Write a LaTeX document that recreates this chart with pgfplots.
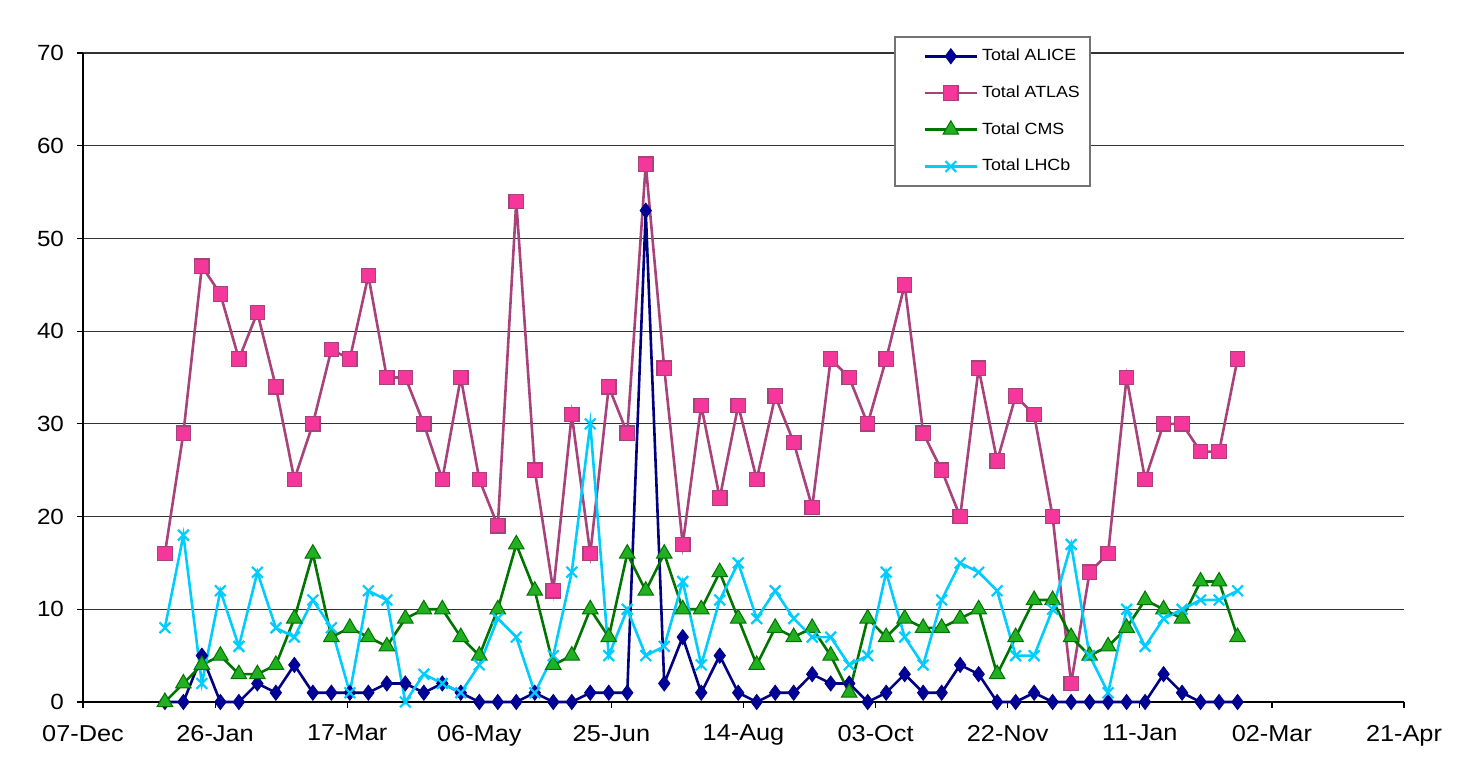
\documentclass[border=0pt]{standalone}
\usepackage{pgfplots}
\usepackage{pgfplotstable}
\pgfplotsset{compat=1.18}
\usepackage{fontspec}
\setmainfont{Liberation Sans}[FakeStretch=1.1]

\definecolor{alice}{HTML}{000080}
\definecolor{alicefill}{HTML}{000099}
\definecolor{atlasline}{HTML}{A8427A}
\definecolor{atlasfill}{HTML}{F5369B}
\definecolor{cmsline}{HTML}{007400}
\definecolor{cmsfill}{HTML}{22B022}
\definecolor{lhcb}{HTML}{00CCFF}

\pgfplotstableread{
x alice atlas cms lhcb
31 0 16 0 8
38 0 29 2 18
45 5 47 4 2
52 0 44 5 12
59 0 37 3 6
66 2 42 3 14
73 1 34 4 8
80 4 24 9 7
87 1 30 16 11
94 1 38 7 8
101 1 37 8 1
108 1 46 7 12
115 2 35 6 11
122 2 35 9 0
129 1 30 10 3
136 2 24 10 2
143 1 35 7 1
150 0 24 5 4
157 0 19 10 9
164 0 54 17 7
171 1 25 12 1
178 0 12 4 5
185 0 31 5 14
192 1 16 10 30
199 1 34 7 5
206 1 29 16 10
213 53 58 12 5
220 2 36 16 6
227 7 17 10 13
234 1 32 10 4
241 5 22 14 11
248 1 32 9 15
255 0 24 4 9
262 1 33 8 12
269 1 28 7 9
276 3 21 8 7
283 2 37 5 7
290 2 35 1 4
297 0 30 9 5
304 1 37 7 14
311 3 45 9 7
318 1 29 8 4
325 1 25 8 11
332 4 20 9 15
339 3 36 10 14
346 0 26 3 12
353 0 33 7 5
360 1 31 11 5
367 0 20 11 10
374 0 2 7 17
381 0 14 5 5
388 0 16 6 1
395 0 35 8 10
402 0 24 11 6
409 3 30 10 9
416 1 30 9 10
423 0 27 13 11
430 0 27 13 11
437 0 37 7 12
}\datatable

\begin{document}
\begin{tikzpicture}
\begin{axis}[
  name=ax, at={(0,0)}, anchor=south west,
  scale only axis, width=660.5pt, height=324.5pt,
  xmin=0, xmax=500, ymin=0, ymax=70,
  axis x line*=bottom, axis y line*=left,
  axis line style={black, line width=0.6pt, -},
  xtick={0,50,...,500},
  xticklabels={07-Dec,26-Jan,17-Mar,06-May,25-Jun,14-Aug,03-Oct,22-Nov,11-Jan,02-Mar,21-Apr},
  ytick={0,10,...,70},
  tick align=outside, major tick length=3pt,
  tick style={black, line width=0.6pt},
  ymajorgrids, major grid style={black!80, line width=0.6pt},
  /pgf/number format/assume math mode=true,
  tick label style={font=\fontsize{11}{13}\selectfont, black},
  xticklabel style={font=\fontsize{11.5}{13}\selectfont, yshift=-5pt},
  yticklabel style={xshift=-3pt},
  clip=false,
  legend style={at={(0.614,1.026)}, anchor=north west, draw=black!55, line width=0.75pt,
    fill=white, font=\fontsize{8.1}{9.5}\selectfont, inner xsep=3pt, inner ysep=4pt,
    row sep=7pt, cells={anchor=west}},
  legend cell align=left,
  legend image code/.code={\path[draw=none] (0pt,0pt) -- (12pt,0pt);\draw[mark repeat=2,mark phase=2,#1] plot coordinates {(12pt,0pt) (25pt,0pt) (38pt,0pt)};},
]
\addplot[alice, line width=1.3pt, mark=diamond*, mark size=3.8pt, mark options={fill=alicefill, draw=alice, line width=0.4pt}] table[x=x, y=alice] {\datatable};
\addlegendentry{Total ALICE}
\addplot[atlasline, line width=1.3pt, mark=square*, mark size=3.6pt, mark options={fill=atlasfill, draw=atlasline, line width=0.6pt}] table[x=x, y=atlas] {\datatable};
\addlegendentry{Total ATLAS}
\addplot[cmsline, line width=1.3pt, mark=triangle*, mark size=4.5pt, mark options={fill=cmsfill, draw=cmsline, line width=0.5pt}] table[x=x, y=cms] {\datatable};
\addlegendentry{Total CMS}
\addplot[lhcb, line width=1.3pt, mark=x, mark size=3.8pt, mark options={draw=lhcb, line width=1.1pt}] table[x=x, y=lhcb] {\datatable};
\addlegendentry{Total LHCb}
\end{axis}
\path[use as bounding box] ([shift={(-41.5pt,-38pt)}]ax.south west) rectangle ([shift={(692.5pt,351pt)}]ax.south west);
\end{tikzpicture}
\end{document}
